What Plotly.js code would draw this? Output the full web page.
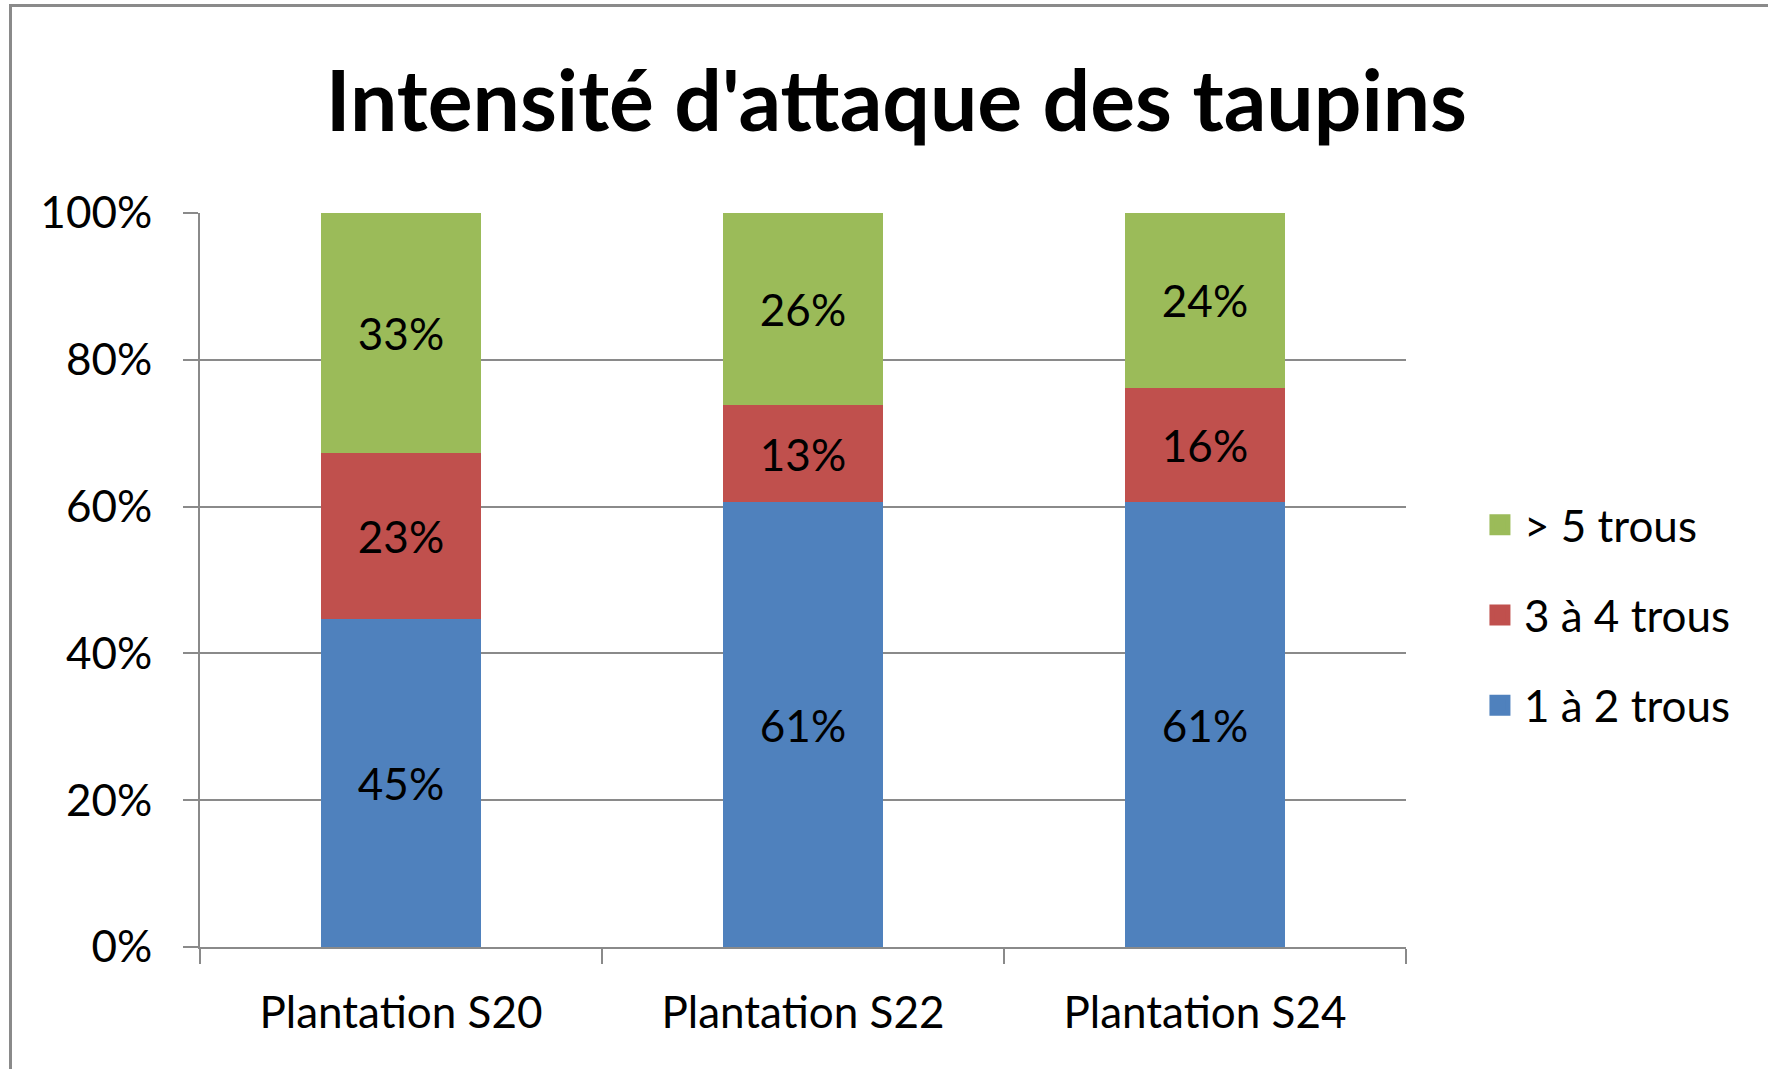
<!DOCTYPE html>
<html>
<head>
<meta charset="utf-8">
<script src="https://cdn.plot.ly/plotly-3.0.1.min.js"></script>
<style>
  body { margin: 0; background: #fff; }
  #graph { width: 1768px; height: 1069px; }
  #frame { position: absolute; left: 9px; top: 4px; width: 1800px; height: 1100px;
           border: 3px solid #8a8a8a; pointer-events: none; }
</style>
</head>
<body>
<div id="graph"></div>
<div id="frame"></div>
<script>
var categories = ["Plantation S20", "Plantation S22", "Plantation S24"];
var unDeux = [44.7, 60.6, 60.6];     /* 1 à 2 trous */
var troisQuatre = [22.6, 13.2, 15.6]; /* 3 à 4 trous */
var plusCinq = [32.7, 26.2, 23.8];    /* > 5 trous */
var yTicks = [0, 20, 40, 60, 80, 100];
var yTickText = ["0%", "20%", "40%", "60%", "80%", "100%"];

var labelFont = { family: "Lato, 'Open Sans', sans-serif", size: 44, color: "#000" };

function makeBar(vals, name, color) {
    return {
        x: categories,
        y: vals,
        name: name,
        type: 'bar',
        width: 0.4,
        showlegend: false,
        marker: { color: color },
        texttemplate: '%{y:.0f}%',
        textposition: 'inside',
        insidetextanchor: 'middle',
        textangle: 0,
        textfont: labelFont,
        hoverinfo: 'x+y+name'
    };
}

/* legend only entries, square swatches bigger than the bar default */
function makeKey(name, color, rank) {
    return {
        x: [null],
        y: [null],
        name: name,
        type: 'scatter',
        mode: 'markers',
        legendgroup: name,
        legendrank: rank,
        marker: { symbol: 'square', size: 16, color: color, line: { color: color, width: 5 } },
        hoverinfo: 'skip'
    };
}

var data = [
    makeBar(unDeux, "1 à 2 trous", "#4F81BD"),
    makeBar(troisQuatre, "3 à 4 trous", "#C0504D"),
    makeBar(plusCinq, "> 5 trous", "#9BBB59"),
    makeKey("> 5 trous", "#9BBB59", 1),
    makeKey("3 à 4 trous", "#C0504D", 2),
    makeKey("1 à 2 trous", "#4F81BD", 3)
];

var layout = {
    width: 1768,
    height: 1069,
    barmode: 'stack',
    paper_bgcolor: '#fff',
    plot_bgcolor: '#fff',
    margin: { l: 200, r: 362, t: 213, b: 122 },
    title: {
        text: "<b>Intensité d'attaque des taupins</b>",
        font: { family: "Lato, 'Open Sans', sans-serif", size: 84, color: "#000" },
        x: 0.507,
        xanchor: 'center',
        y: 0.905,
        yanchor: 'middle'
    },
    xaxis: {
        showline: true,
        linecolor: '#8a8a8a',
        linewidth: 2,
        ticks: 'outside',
        tickson: 'boundaries',
        ticklen: 15,
        tickwidth: 2,
        tickcolor: '#8a8a8a',
        ticklabelstandoff: 26,
        tickfont: labelFont,
        showgrid: false
    },
    yaxis: {
        range: [0, 100],
        tickvals: yTicks,
        ticktext: yTickText,
        showline: true,
        linecolor: '#8a8a8a',
        linewidth: 2,
        ticks: 'outside',
        ticklen: 15,
        tickwidth: 2,
        tickcolor: '#8a8a8a',
        ticklabelstandoff: 22,
        showgrid: true,
        gridcolor: '#8a8a8a',
        gridwidth: 2,
        zeroline: false,
        tickfont: labelFont
    },
    legend: {
        x: 1.058,
        xanchor: 'left',
        y: 0.452,
        yanchor: 'middle',
        traceorder: 'grouped',
        tracegroupgap: 30,
        font: labelFont,
        itemwidth: 38
    },
    showlegend: true
};

Plotly.newPlot("graph", data, layout, { displayModeBar: false });
</script>
</body>
</html>
